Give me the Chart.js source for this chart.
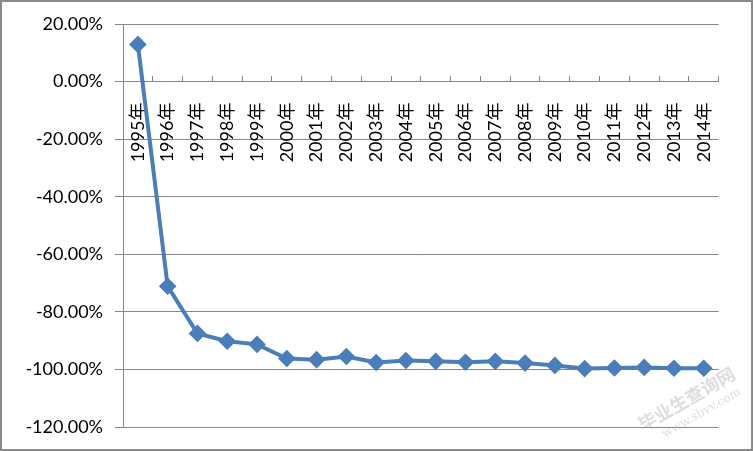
<!DOCTYPE html>
<html>
<head>
<meta charset="utf-8">
<script src="https://cdn.jsdelivr.net/npm/chart.js@4"></script>
<style>
  html, body { margin: 0; padding: 0; background: #fff; }
  #wrap { position: relative; width: 753px; height: 451px; box-sizing: border-box; border: 2px solid #8a8a8a; }
  #chart { position: absolute; left: -2px; top: -2px; }
</style>
</head>
<body>
<div id="wrap"><canvas id="chart" width="753" height="451"></canvas></div>
<script>
// categories and growth rate (%)
const years = ['1995年', '1996年', '1997年', '1998年', '1999年', '2000年', '2001年', '2002年', '2003年', '2004年',
  '2005年', '2006年', '2007年', '2008年', '2009年', '2010年', '2011年', '2012年', '2013年', '2014年'];
const rates = [12.9, -71.1, -87.5, -90.2, -91.3, -96.2, -96.6, -95.5, -97.6, -96.9,
  -97.2, -97.5, -97.2, -97.8, -98.6, -99.7, -99.5, -99.3, -99.6, -99.6];
const yMin = -120, yMax = 20, yStep = 20;

const fontFamily = "Lato, 'Noto Sans CJK SC', sans-serif";
const gridGray = '#868686';
const blue = '#4a7ebb';

// faint site watermark in the lower right corner
const watermark = {
  id: 'watermark',
  afterDraw(chart) {
    const ctx = chart.ctx;
    ctx.save();
    ctx.translate(690, 405);
    ctx.rotate(-0.52);
    ctx.fillStyle = 'rgba(170,170,170,0.4)';
    ctx.textAlign = 'center';
    ctx.font = "bold 18px 'Noto Sans CJK SC'";
    ctx.fillText('毕业生查询网', 0, 0);
    ctx.font = "12px 'DejaVu Serif'";
    ctx.fillText('www.sbvv.com', 6, 16);
    ctx.restore();
  }
};

new Chart(document.getElementById('chart'), {
  type: 'line',
  data: {
    labels: years,
    datasets: [{
      data: rates,
      borderColor: blue,
      backgroundColor: blue,
      borderWidth: 4,
      pointStyle: 'rectRot',
      pointRadius: 6,
      pointHoverRadius: 6,
      tension: 0
    }]
  },
  options: {
    responsive: false,
    animation: false,
    layout: { padding: { top: 24, bottom: 24, right: 25, left: 0 } },
    plugins: { legend: { display: false }, tooltip: { enabled: false } },
    scales: {
      x: {
        position: { y: 0 },
        offset: true,
        grid: { display: true, drawOnChartArea: false, offset: true, tickLength: -6, color: gridGray },
        border: { color: gridGray },
        ticks: {
          minRotation: 90, maxRotation: 90, padding: 27, autoSkip: false,
          color: '#000', font: { family: fontFamily, size: 18 }
        }
      },
      y: {
        min: yMin, max: yMax,
        afterFit(scale) { scale.width = 123; },
        grid: { color: gridGray, tickLength: 8 },
        border: { color: gridGray },
        ticks: {
          stepSize: yStep, padding: 12, color: '#000',
          font: { family: fontFamily, size: 18 },
          callback: v => v.toFixed(2) + '%'
        }
      }
    }
  },
  plugins: [watermark]
});
</script>
</body>
</html>
